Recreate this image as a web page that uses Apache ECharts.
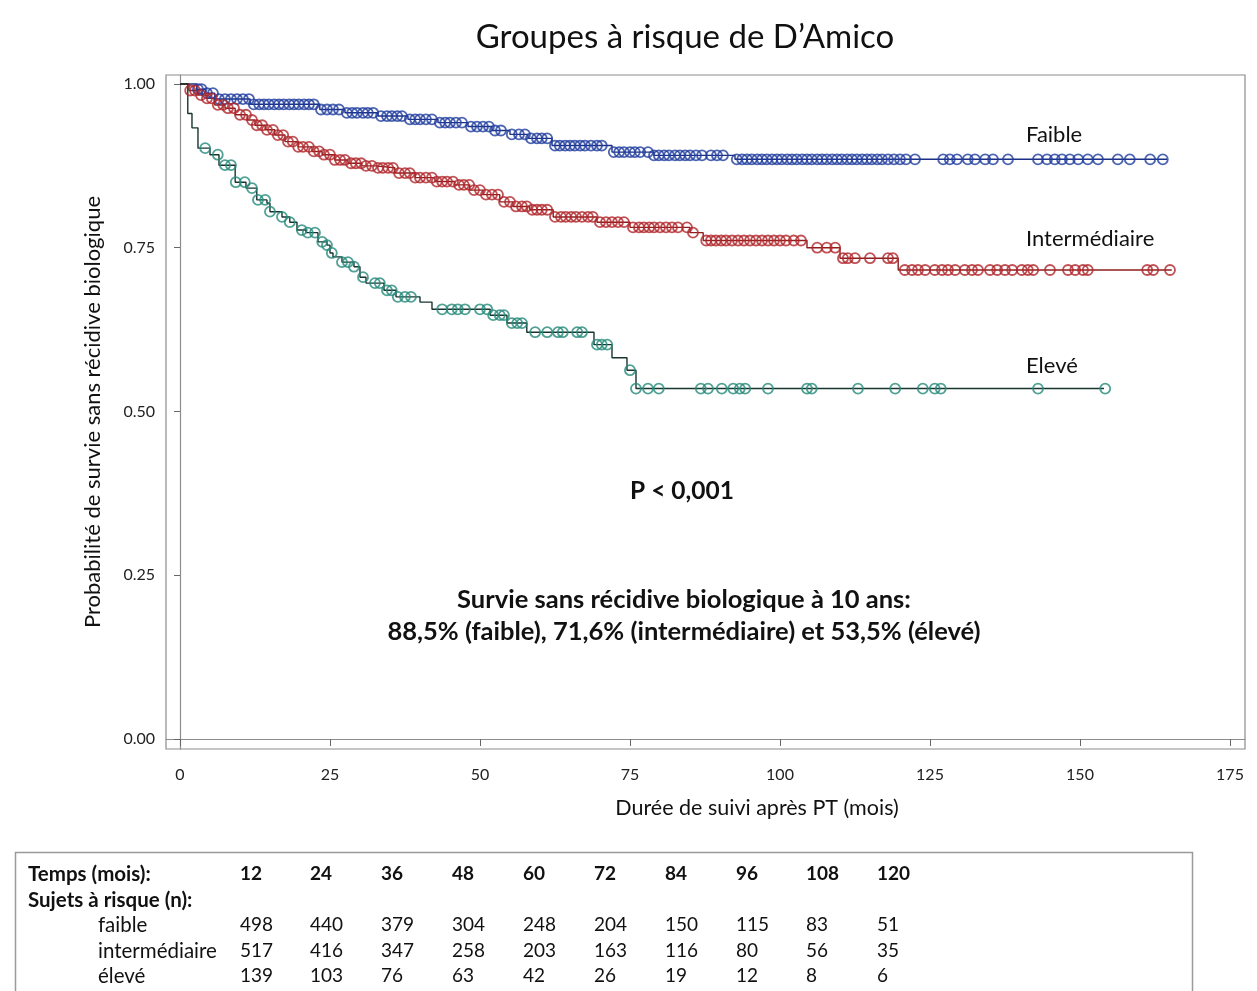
<!DOCTYPE html>
<html><head><meta charset="utf-8">
<script src="https://cdn.jsdelivr.net/npm/echarts@6/dist/echarts.min.js"></script>
<style>html,body{margin:0;padding:0;background:#fff}#chart{width:1257px;height:991px}</style>
</head><body><div id="chart"></div>
<script>
// ---- Kaplan-Meier step curves (time in months, survival probability) ----
const faibleStepT = [0, 2.8, 4.2, 5.8, 11.7, 23.3, 27.5, 33, 38, 43, 48, 52, 55, 58, 62, 72, 79, 92.5, 164.5];
const faibleStepS = [1, 0.992, 0.986, 0.977, 0.969, 0.961, 0.956, 0.951, 0.946, 0.941, 0.935, 0.929, 0.923, 0.917, 0.906, 0.896, 0.891, 0.885, 0.885];

const interStepT = [0, 1.5, 3, 4.5, 5.8, 7.5, 9.2, 11.2, 12.5, 14.2, 15.8, 17.5, 19.7, 22, 23.7, 25.8, 28, 30.3, 32.5, 35.8, 39.2, 42.5, 45.8, 48.3, 50.5, 53.3, 55.5, 58.3, 62.2, 69.5, 75, 85, 87.2, 104.5, 110, 119.7, 165.3];
const interStepS = [1, 0.99, 0.983, 0.978, 0.968, 0.963, 0.953, 0.945, 0.937, 0.93, 0.922, 0.912, 0.904, 0.897, 0.892, 0.884, 0.879, 0.875, 0.872, 0.864, 0.857, 0.851, 0.846, 0.838, 0.831, 0.82, 0.813, 0.808, 0.797, 0.789, 0.781, 0.773, 0.761, 0.75, 0.734, 0.716, 0.716];

const eleveStepT = [0, 1.3, 2, 3, 5, 6.5, 9.2, 11, 12.8, 14.5, 15, 17, 18.3, 19.5, 21, 23, 24.5, 25, 25.5, 27, 29, 30, 31, 34, 36, 40, 42, 51.7, 54.5, 57.8, 69, 72, 74.5, 76, 154];
const eleveStepS = [1, 0.955, 0.933, 0.902, 0.892, 0.876, 0.85, 0.841, 0.823, 0.818, 0.805, 0.797, 0.789, 0.777, 0.773, 0.759, 0.754, 0.742, 0.736, 0.728, 0.721, 0.705, 0.696, 0.685, 0.675, 0.667, 0.656, 0.647, 0.635, 0.621, 0.602, 0.582, 0.563, 0.535, 0.535];

// ---- censoring times (months) ----
const faibleCensor = [3, 3.6, 4.5, 5.5, 6.5, 7.5, 8.5, 9.5, 10.5, 11.5, 12.3, 13.2, 14, 14.8, 15.7, 16.5, 17.3, 18.2, 19, 19.8, 20.7, 21.5, 22.3, 23.5, 24.5, 25.5, 26.5, 27.8, 28.7, 29.5, 30.5, 31.3, 32.2, 33.5, 34.5, 35.3, 36.2, 37, 38.3, 39.2, 40, 41, 42, 43.3, 44.2, 45, 46, 47, 48.5, 49.5, 50.5, 51.5, 52.5, 53.5, 55.3, 56.5, 57.5, 58.5, 59.5, 60.3, 61.2, 62.5, 63.3, 64.2, 65, 65.8, 66.7, 67.5, 68.5, 69.5, 70.3, 72.3, 73.2, 74, 75, 75.8, 76.7, 78, 79, 79.8, 80.7, 81.5, 82.5, 83.3, 84.2, 85, 86, 87, 88.5, 89.5, 90.5, 92.8, 93.7, 94.5, 95.3, 96.2, 97, 97.8, 98.7, 99.5, 100.3, 101.2, 102, 102.8, 103.7, 104.5, 105.3, 106.2, 107, 107.8, 108.7, 109.5, 110.3, 111.2, 112, 112.8, 113.7, 114.5, 115.3, 116.2, 117, 118, 119, 120, 121, 122.5, 127.2, 128.3, 129.5, 131.3, 132.5, 134.2, 135.5, 138, 143, 144.5, 145.8, 147, 148.3, 149.7, 151.3, 153, 156.3, 158.3, 161.7, 163.8];
const interCensor = [1.7, 2.5, 3.5, 4.5, 5.3, 6.3, 7.2, 8, 9, 10, 11, 12, 12.8, 13.7, 14.5, 15.5, 16.3, 17.2, 18, 18.8, 19.7, 20.5, 21.5, 22.3, 23.2, 24, 25, 25.8, 26.7, 27.5, 28.5, 29.3, 30.2, 31, 32, 33, 33.8, 34.7, 35.5, 36.5, 37.5, 38.3, 39.2, 40, 41, 42, 42.8, 43.7, 44.5, 45.5, 46.5, 47.3, 48.2, 49, 50, 51, 52, 53, 54, 55, 56, 57, 57.8, 58.7, 59.5, 60.3, 61.2, 62.5, 63.5, 64.3, 65.2, 66, 67, 68, 68.8, 70, 71, 72, 73, 74, 75.5, 76.5, 77.3, 78.2, 79, 80, 81, 82, 83, 84.5, 85.5, 87.7, 88.5, 89.3, 90.2, 91, 92, 93, 94, 95, 96, 97, 98, 99, 100, 101, 102.3, 103.5, 106.2, 107.8, 109.2, 110.5, 111.3, 112.5, 115, 118, 118.8, 120.8, 122, 123, 124.2, 125.8, 127, 128, 129.2, 130.8, 132, 133, 135, 136.2, 137.5, 138.7, 140.3, 141.3, 142.2, 145, 148, 149.2, 150.5, 151.3, 161.2, 162.2, 165];
const eleveCensor = [4.2, 6.3, 7.5, 8.5, 9.3, 10.8, 12, 13, 14.2, 15, 17, 18.3, 20.3, 21.3, 22.5, 23.7, 24.5, 25.3, 27, 28, 29, 30.5, 32.5, 33.3, 34.5, 35.3, 36.3, 37.5, 38.5, 43.7, 45.3, 46.3, 47.5, 50, 51.2, 52.2, 53.3, 54, 55.3, 56.2, 57, 59.2, 61.2, 63, 63.8, 66.2, 67, 69.5, 70.3, 71.2, 75, 76, 78, 79.8, 86.8, 88, 90.3, 92.2, 93.3, 94.2, 98, 104.5, 105.3, 113, 119.2, 123.8, 125.8, 126.8, 143, 154.2];

// ---- axis ticks ----
const xTicks = [0, 25, 50, 75, 100, 125, 150, 175];
const yTicks = [0, 0.25, 0.5, 0.75, 1];

// ---- risk table ----
const tableTimes = [12, 24, 36, 48, 60, 72, 84, 96, 108, 120];
const riskFaible = [498, 440, 379, 304, 248, 204, 150, 115, 83, 51];
const riskInter = [517, 416, 347, 258, 203, 163, 116, 80, 56, 35];
const riskEleve = [139, 103, 76, 63, 42, 26, 19, 12, 8, 6];

const FONT = 'Lato, "Open Sans", sans-serif';
const C_BLUE = '#203d9e', C_BLUE_L = '#1b2f86';
const C_RED = '#b0252a', C_RED_L = '#8e1c1c';
const C_TEAL = '#25897a', C_TEAL_L = '#17342f';

function stepData(T, S) { return T.map((t, i) => [t, S[i]]); }
function survAt(T, S, t) { let v = S[0]; for (let i = 0; i < T.length; i++) { if (T[i] <= t) v = S[i]; } return v; }
function censorData(T, S, C) { return C.map(t => [t, survAt(T, S, t)]); }

function lineSeries(T, S, col) {
  return { type: 'line', step: 'end', showSymbol: false, symbol: 'none', data: stepData(T, S),
    lineStyle: { color: col, width: 1.4 }, z: 2, animation: false };
}
function censorSeries(T, S, C, col) {
  return { type: 'scatter', data: censorData(T, S, C), symbol: 'circle', symbolSize: 10,
    itemStyle: { color: 'rgba(255,255,255,0)', borderColor: col, borderWidth: 1.8 }, z: 3, animation: false };
}

const graphics = [];
function txt(x, y, s, opts) {
  graphics.push({ type: 'text', x: x, y: y, silent: true,
    style: Object.assign({ text: s, font: '19px ' + FONT, fill: '#111', textAlign: 'left', textVerticalAlign: 'middle' }, opts || {}) });
}
// x axis title (offset to the right as in the reference)
txt(757, 808, 'Durée de suivi après PT (mois)', { font: '21.5px ' + FONT, textAlign: 'center' });
// curve labels
txt(1026, 135, 'Faible', { font: '22px ' + FONT });
txt(1026, 239, 'Intermédiaire', { font: '22px ' + FONT });
txt(1026, 366, 'Elevé', { font: '22px ' + FONT });
// annotations
txt(682, 491, 'P < 0,001', { font: 'bold 24.5px ' + FONT, textAlign: 'center' });
txt(684, 600, 'Survie sans récidive biologique à 10 ans:', { font: 'bold 25.5px ' + FONT, textAlign: 'center' });
txt(684, 632, '88,5% (faible), 71,6% (intermédiaire) et 53,5% (élevé)', { font: 'bold 25.5px ' + FONT, textAlign: 'center' });
// table
graphics.push({ type: 'rect', shape: { x: 15.5, y: 852.5, width: 1177, height: 150 }, silent: true,
  style: { fill: 'none', stroke: '#9a9a9a', lineWidth: 1.5 } });
const colX = [240, 310, 381, 452, 523, 594, 665, 736, 806, 877];
const rowY = [874, 900, 925, 951, 976];
txt(28, rowY[0], 'Temps (mois):', { font: 'bold 20.5px ' + FONT });
txt(28, rowY[1], 'Sujets à risque (n):', { font: 'bold 20.5px ' + FONT });
txt(98, rowY[2], 'faible', { font: '20.5px ' + FONT });
txt(98, rowY[3], 'intermédiaire', { font: '20.5px ' + FONT });
txt(98, rowY[4], 'élevé', { font: '20.5px ' + FONT });
tableTimes.forEach((v, i) => txt(colX[i], rowY[0], String(v), { font: 'bold 19px ' + FONT }));
riskFaible.forEach((v, i) => txt(colX[i], rowY[2], String(v), { font: '19px ' + FONT }));
riskInter.forEach((v, i) => txt(colX[i], rowY[3], String(v), { font: '19px ' + FONT }));
riskEleve.forEach((v, i) => txt(colX[i], rowY[4], String(v), { font: '19px ' + FONT }));

const chart = echarts.init(document.getElementById('chart'), null, { renderer: 'canvas' });
chart.setOption({
  backgroundColor: '#fff',
  animation: false,
  title: { text: 'Groupes à risque de D\u2019Amico', left: 680, top: 16, textAlign: 'center',
    textStyle: { fontFamily: FONT, fontSize: 33, fontWeight: 'normal', color: '#111' } },
  grid: { left: 166, top: 75, width: 1079, height: 674, show: true, borderColor: '#8c8c8c', borderWidth: 1.2, containLabel: false },
  xAxis: {
    type: 'value', min: -2.33, max: 177.5,
    axisLine: { show: true, lineStyle: { color: '#8c8c8c', width: 1.2 } },
    axisTick: { show: true, customValues: xTicks, length: 7, lineStyle: { color: '#666' } },
    axisLabel: { customValues: xTicks, margin: 18, fontFamily: FONT, fontSize: 16, color: '#222' },
    splitLine: { show: false }
  },
  yAxis: {
    type: 'value', min: -0.0153, max: 1.0137,
    name: 'Probabilité de survie sans récidive biologique', nameLocation: 'middle', nameGap: 62,
    nameTextStyle: { fontFamily: FONT, fontSize: 22, color: '#111' },
    axisLine: { show: true, lineStyle: { color: '#8c8c8c', width: 1.2 } },
    axisTick: { show: true, customValues: yTicks, length: 6, lineStyle: { color: '#666' } },
    axisLabel: { customValues: yTicks, margin: 11, fontFamily: FONT, fontSize: 16, color: '#222', formatter: v => v.toFixed(2) },
    splitLine: { show: false }
  },
  series: [
    lineSeries(faibleStepT, faibleStepS, C_BLUE_L),
    lineSeries(interStepT, interStepS, C_RED_L),
    lineSeries(eleveStepT, eleveStepS, C_TEAL_L),
    censorSeries(faibleStepT, faibleStepS, faibleCensor, C_BLUE),
    censorSeries(interStepT, interStepS, interCensor, C_RED),
    censorSeries(eleveStepT, eleveStepS, eleveCensor, C_TEAL)
  ],
  graphic: graphics
});
</script>
</body></html>
